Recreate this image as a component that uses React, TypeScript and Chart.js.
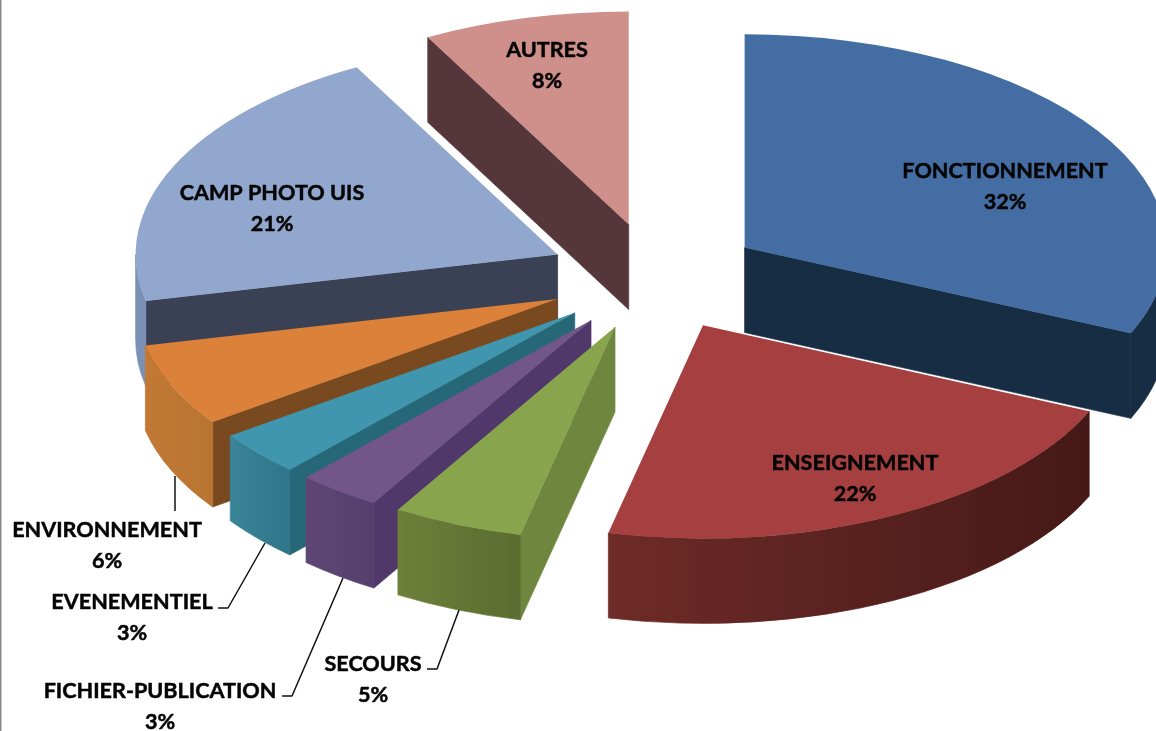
import React, { useEffect, useRef } from "react";
import { Chart, registerables } from "chart.js";

Chart.register(...registerables);

const categories = ["FONCTIONNEMENT", "ENSEIGNEMENT", "SECOURS", "FICHIER-PUBLICATION", "EVENEMENTIEL", "ENVIRONNEMENT", "CAMP PHOTO UIS", "AUTRES"];
const shares = [31.6, 22, 5, 3.2, 3.4, 6.3, 20.6, 7.9];

const topColors = ["#446DA3", "#A64040", "#88A54D", "#735689", "#4096AE", "#DB8139", "#92A7CD", "#CF8F8A"];
const cutColors = ["#172D44", "#4A1A18", "#6F863E", "#50396A", "#266778", "#794A20", "#3A4154", "#55363A"];
const wallLeft = ["#172D44", "#6E2B27", "#6C8039", "#5E4675", "#3A8498", "#C27935", "#7C90B6", "#55363A"];
const wallRight = ["#172D44", "#451917", "#5B6C30", "#54406D", "#2F7589", "#B97432", "#7C90B6", "#55363A"];

const paintOrder = [7, 0, 6, 5, 4, 3, 2, 1];
const labelCentres = [[1005, 170], [855, 462], [373, 663], [160, 690], [132, 601], [107, 529], [272, 192], [547, 49]];
const leaderLines = [
  [[175, 476], [175, 511]],
  [[265, 543], [228, 608], [218, 608]],
  [[343, 578], [292, 696], [282, 696]],
  [[459, 610], [437, 669], [427, 669]],
];

const SQUASH = 0.505;
const DEPTH = 85;
const EXPLODE = 107;
const LINE_GAP = 31;

const pie3d = {
  id: "pie3d",
  beforeDraw(chart: any) {
    const { ctx } = chart;
    ctx.save();
    ctx.fillStyle = "#8A8A8A";
    ctx.fillRect(0, 0, 1.5, chart.height);
    ctx.restore();
  },
  beforeDatasetDraw(chart: any, args: any) {
    const { ctx } = chart;
    const arcs = args.meta.data;
    for (const i of paintOrder) {
      const arc = arcs[i];
      const a1 = arc.startAngle;
      const a2 = arc.endAngle;
      const mid = (a1 + a2) / 2;
      const r = arc.outerRadius;
      const ax = arc.x + Math.cos(mid) * EXPLODE;
      const ay = arc.y + Math.sin(mid) * EXPLODE * SQUASH;
      const rim = (a: number) => [ax + Math.cos(a) * r, ay + Math.sin(a) * r * SQUASH];
      ctx.lineWidth = 0.7;

      const face = (a: number) => {
        const [px, py] = rim(a);
        ctx.beginPath();
        ctx.moveTo(ax, ay);
        ctx.lineTo(px, py);
        ctx.lineTo(px, py + DEPTH);
        ctx.lineTo(ax, ay + DEPTH);
        ctx.closePath();
        ctx.fillStyle = cutColors[i];
        ctx.strokeStyle = cutColors[i];
        ctx.fill();
        ctx.stroke();
      };
      // radial cut faces turned towards the viewer
      if (Math.cos(a1) < -1e-6) face(a1);
      if (Math.cos(a2) > 1e-6) face(a2);

      // outer wall: only the front half (0..PI in canvas angles)
      const w1 = Math.max(a1, 0);
      const w2 = Math.min(a2, Math.PI);
      if (w2 > w1) {
        const [x1] = rim(w1);
        const [x2] = rim(w2);
        const g = ctx.createLinearGradient(Math.min(x1, x2), 0, Math.max(x1, x2), 0);
        g.addColorStop(0, wallLeft[i]);
        g.addColorStop(1, wallRight[i]);
        ctx.beginPath();
        ctx.ellipse(ax, ay, r, r * SQUASH, 0, w1, w2);
        ctx.ellipse(ax, ay + DEPTH, r, r * SQUASH, 0, w2, w1, true);
        ctx.closePath();
        ctx.fillStyle = g;
        ctx.strokeStyle = g;
        ctx.fill();
        ctx.stroke();
      }

      // top surface: the library's own arc, squashed and moved out
      ctx.save();
      ctx.translate(ax, ay);
      ctx.scale(1, SQUASH);
      ctx.translate(-arc.x, -arc.y);
      arc.draw(ctx);
      ctx.restore();
    }
    return false;
  },
  afterDatasetsDraw(chart: any) {
    const { ctx } = chart;
    ctx.save();
    ctx.strokeStyle = "#111111";
    ctx.lineWidth = 1.5;
    ctx.lineJoin = "round";
    for (const line of leaderLines) {
      ctx.beginPath();
      line.forEach(([x, y], k) => (k ? ctx.lineTo(x, y) : ctx.moveTo(x, y)));
      ctx.stroke();
    }
    ctx.fillStyle = "#050505";
    ctx.strokeStyle = "#050505";
    ctx.lineWidth = 0.5;
    ctx.font = "bold 21.6px Lato, 'Open Sans', sans-serif";
    ctx.textAlign = "center";
    ctx.textBaseline = "middle";
    categories.forEach((name, i) => {
      const [x, y] = labelCentres[i];
      ctx.fillText(name, x, y + 1);
      ctx.strokeText(name, x, y + 1);
      const pct = Math.round(shares[i]) + "%";
      ctx.fillText(pct, x, y + 1 + LINE_GAP);
      ctx.strokeText(pct, x, y + 1 + LINE_GAP);
    });
    ctx.restore();
  },
};

export default function App() {
  const ref = useRef<HTMLCanvasElement>(null);
  useEffect(() => {
    document.body.style.margin = "0";
    document.body.style.background = "#ffffff";
    const chart = new Chart(ref.current as HTMLCanvasElement, {
      type: "pie",
      data: {
        labels: categories,
        datasets: [{ data: shares, backgroundColor: topColors, borderWidth: 0 }],
      },
      options: {
        animation: false,
        responsive: false,
        radius: 422,
        layout: { padding: { left: 154, right: 0, top: 0, bottom: 177 } },
        plugins: { legend: { display: false }, tooltip: { enabled: false } },
      },
      plugins: [pie3d],
    } as any);
    return () => chart.destroy();
  }, []);
  return <canvas ref={ref} width={1156} height={731} style={{ display: "block" }} />;
}
